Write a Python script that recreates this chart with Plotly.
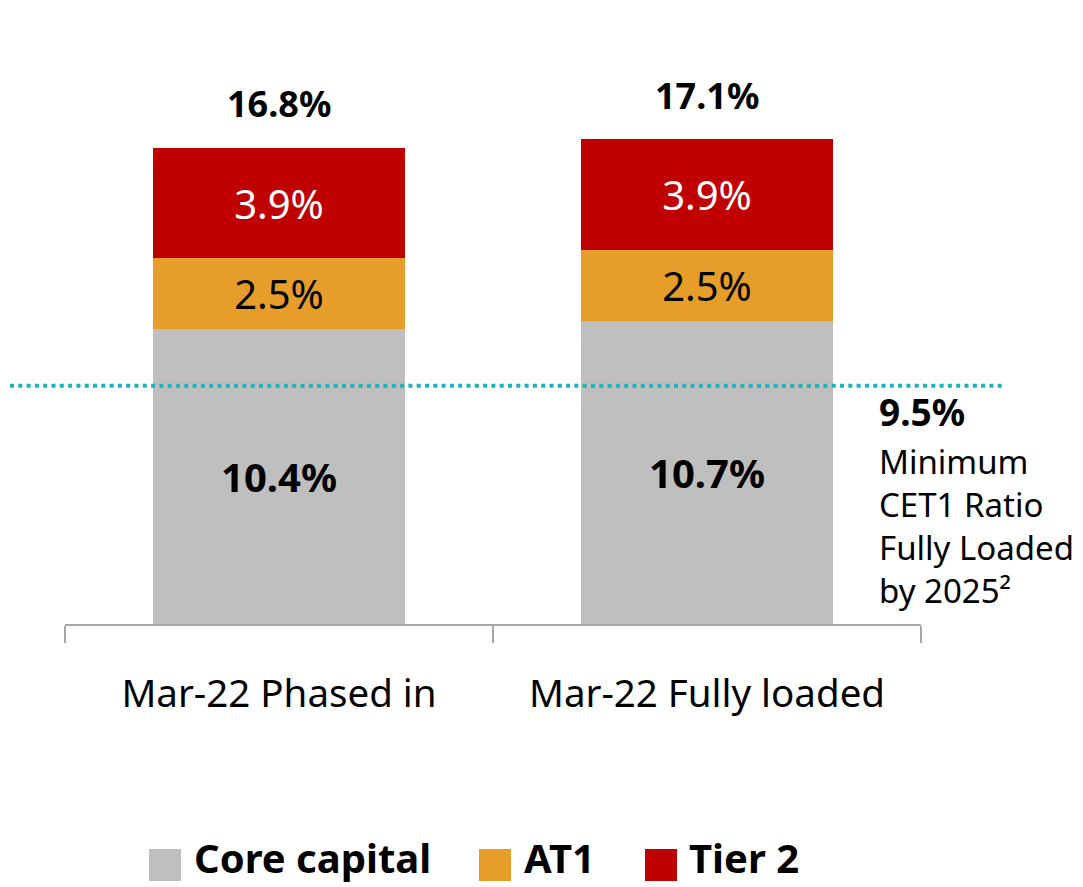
import plotly.graph_objects as go

# ---- data ----
categories = ["Mar-22 Phased in", "Mar-22 Fully loaded"]
series_names = ["Core capital", "AT1", "Tier 2"]
core_capital = [10.4, 10.7]
at1 = [2.5, 2.5]
tier2 = [3.9, 3.9]
totals = [16.8, 17.1]
min_cet1_label = "9.5%"
min_cet1_line_level = 8.4   # level at which the dotted line is drawn in the picture
note_lines = ["Minimum", "CET1 Ratio", "Fully Loaded", "by 2025²"]

# ---- style ----
FONT = "Noto Sans"
colors = ["#BFBFBF", "#E69D2A", "#C00000"]
OFF = 8                       # page body margin
W, H = 1083 - OFF, 887 - OFF
# plot area in page pixels: x 65..921, y 57..624
L, R, T, B = 65 - OFF, 1083 - 921, 57 - OFF, 887 - 624
PW, PH = W - L - R, H - T - B

def px(x):
    return (x - OFF - L) / PW

def py(y):
    return (H - B - (y - OFF)) / PH

fig = go.Figure()
series_vals = [core_capital, at1, tier2]
text_styles = [
    dict(color="black", size=40, bold=True),
    dict(color="black", size=40, bold=False),
    dict(color="white", size=40, bold=False),
]
for name, vals, col, st in zip(series_names, series_vals, colors, text_styles):
    txt = [f"<b>{v}%</b>" if st["bold"] else f"{v}%" for v in vals]
    fig.add_trace(go.Bar(
        x=categories, y=vals, name=name, marker=dict(color=col, line=dict(width=0)),
        width=0.589, text=txt, textposition="inside", insidetextanchor="middle",
        textangle=0, constraintext="none", cliponaxis=False,
        textfont=dict(family=FONT, size=st["size"], color=st["color"]),
        hoverinfo="skip", showlegend=False,
    ))

# totals above bars
for c, t in zip(categories, totals):
    fig.add_annotation(x=c, y=t, text=f"<b>{t}%</b>", showarrow=False,
                       yanchor="middle", yshift=44,
                       font=dict(family=FONT, size=36, color="black"))

# dotted minimum line
fig.add_shape(type="line", xref="paper", yref="y", x0=px(10), x1=px(1002),
              y0=min_cet1_line_level, y1=min_cet1_line_level,
              line=dict(color="#1BB3BC", width=4, dash="4px,4.3px"), layer="above")

# right-hand note
fig.add_annotation(xref="paper", yref="paper", x=px(878), y=py(411), xanchor="left",
                   yanchor="middle", text=f"<b>{min_cet1_label}</b>", showarrow=False,
                   borderpad=0, font=dict(family=FONT, size=37, color="black"))
fig.add_annotation(xref="paper", yref="paper", x=px(878), y=py(461 + 1.5 * 43),
                   xanchor="left", yanchor="middle", align="left",
                   text="<br>".join(note_lines), showarrow=False, borderpad=0,
                   font=dict(family=FONT, size=33, color="black"))

# manual legend
sq_x = [149, 479, 645]
txt_x = [193, 523, 688]
for name, col, sx, tx in zip(series_names, colors, sq_x, txt_x):
    fig.add_shape(type="rect", xref="paper", yref="paper",
                  x0=px(sx), x1=px(sx + 32), y0=py(849), y1=py(881),
                  fillcolor=col, line=dict(width=0))
    fig.add_annotation(xref="paper", yref="paper", x=px(tx), y=py(858), xanchor="left",
                       yanchor="middle", text=f"<b>{name}</b>", showarrow=False,
                       borderpad=0, font=dict(family=FONT, size=40, color="black"))

fig.update_layout(
    width=W, height=H, barmode="stack", bargap=0,
    margin=dict(l=L, r=R, t=T, b=B, autoexpand=False),
    plot_bgcolor="white", paper_bgcolor="white",
    font=dict(family=FONT, color="black"),
    showlegend=False,
    xaxis=dict(type="category", range=[-0.5, 1.5], showline=True, linecolor="#A6A6A6",
               linewidth=1.5, ticks="outside", tickson="boundaries", ticklen=17,
               tickcolor="#A6A6A6", tickwidth=1.5, showgrid=False, zeroline=False,
               tickfont=dict(family=FONT, size=38.5, color="black"), ticklabelstandoff=35),
    yaxis=dict(range=[0, 20], visible=False, showgrid=False, zeroline=False),
)

fig.write_html("out.html")
